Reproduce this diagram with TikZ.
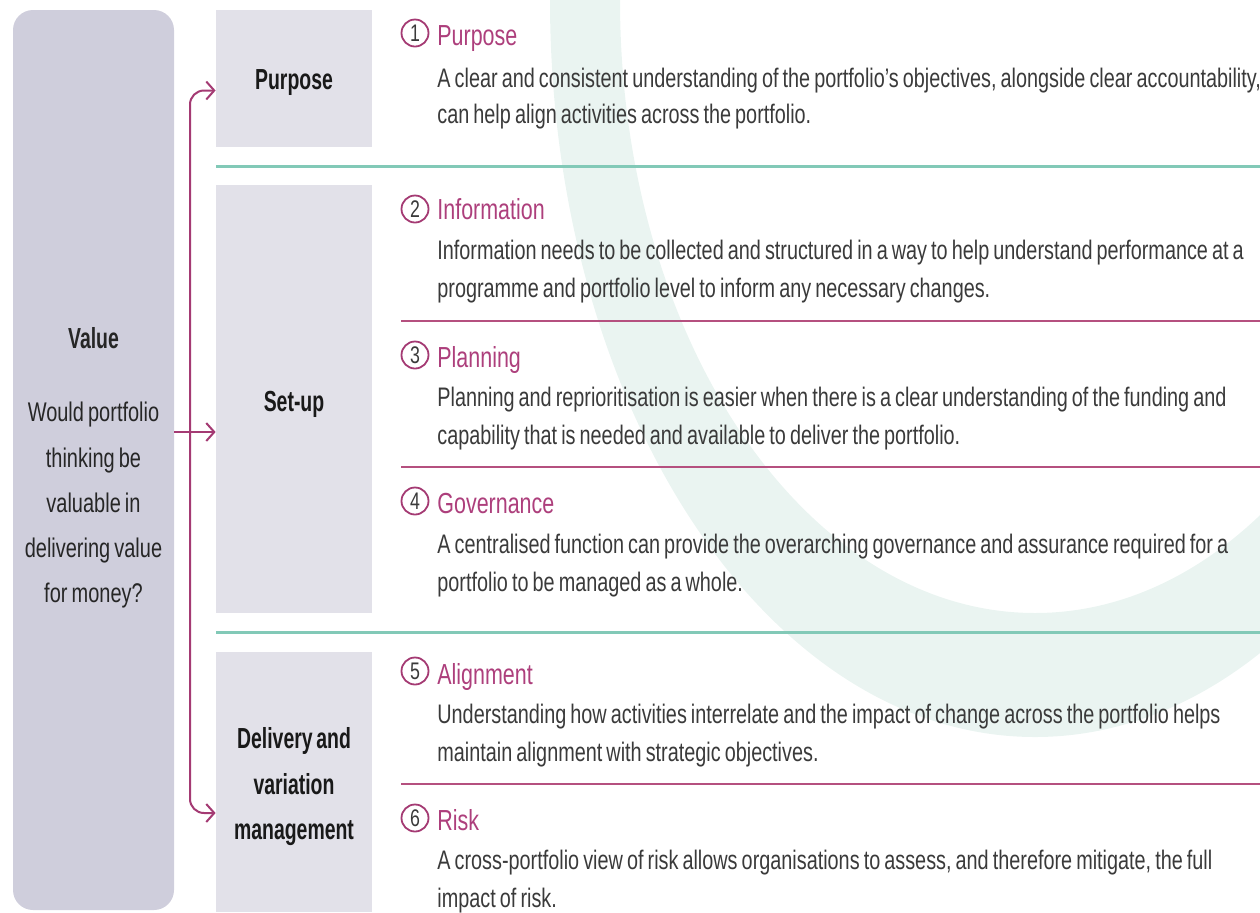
\documentclass[tikz,border=0pt]{standalone}
\usepackage{fontspec}
\setmainfont{Liberation Sans}[FakeStretch=0.74, WordSpace=0.74]
\newfontfamily\headfont{Liberation Sans}[FakeStretch=0.67, WordSpace=0.67]
\usetikzlibrary{arrows.meta}

\definecolor{valuegrey}{HTML}{CFCEDC}
\definecolor{stagegrey}{HTML}{E2E1E9}
\definecolor{tealrule}{HTML}{82C9B7}
\definecolor{plum}{HTML}{A43A73}
\definecolor{plumline}{HTML}{B5507F}
\definecolor{plumtext}{HTML}{AD3F7C}
\definecolor{ringtint}{HTML}{EAF4F1}
\definecolor{bodygrey}{HTML}{3A3A3A}

\begin{document}
\begin{tikzpicture}[x=0.5pt, y=-0.5pt, font=\fontsize{13.4}{19}\selectfont]

        % Setup the styles for boxes, rules and items
        \tikzset{value box/.style={rectangle,
                                   rounded corners=10pt,
                                   fill=valuegrey,
                                   minimum width=80.5pt,
                                   minimum height=450pt,
                                   inner sep=0pt,
                                   align=center,
                                   text=black!85,
                                   font=\fontsize{13.5}{22.6}\selectfont},
                 stage box/.style={rectangle,
                                   fill=stagegrey,
                                   minimum width=78pt,
                                   inner sep=0pt},
                 stage text/.style={inner sep=0pt, align=center, text=black!90,
                                    font=\headfont\bfseries\fontsize{14.5}{22.75}\selectfont},
                 num/.style={circle, draw=plum, line width=0.9pt,
                             minimum size=13.5pt, inner sep=0pt,
                             text=bodygrey, font=\fontsize{12}{12}\selectfont},
                 item title/.style={anchor=base west, inner sep=0pt,
                                    text=plumtext, font=\fontsize{14.5}{18}\selectfont},
                 item text/.style={anchor=base west, inner sep=0pt,
                                   text width=440pt, align=left, text=bodygrey,
                                   execute at begin node={\spaceskip=0pt\xspaceskip=0pt}},
                 teal rule/.style={draw=tealrule, line width=1.5pt},
                 plum rule/.style={draw=plumline, line width=1.2pt},
                 link/.style={draw=plum, line width=1pt,
                              -{Straight Barb[length=4pt,width=9pt]}}}

        \useasboundingbox (0,0) rectangle (1260,912);

        % Pale ring behind the items
        \begin{scope}
            \clip (0,0) rectangle (1260,912);
            \fill[ringtint, even odd rule]
                (1035,0) ellipse [x radius=242.5pt, y radius=368.5pt]
                (1035,0) ellipse [x radius=207.5pt, y radius=306.5pt];
        \end{scope}

        % Draw the boxes
        \node[value box] (value) at (93.5,460) {};
        \node[value box, fill=none, minimum height=0pt] (question) at (93.5,468)
            {{\headfont\bfseries\fontsize{14.5}{22.6}\selectfont Value}\\[14pt]
             Would portfolio\\thinking be\\valuable in\\delivering value\\for money?};
        \node[stage box, minimum height=68.5pt] (purpose)  at (294,78.5) {};
        \node[stage box, minimum height=214pt]  (setup)    at (294,399)  {};
        \node[stage box, minimum height=130pt]  (delivery) at (294,782)  {};
        \node[stage text] at (294,83)  {Purpose};
        \node[stage text] at (294,404) {Set-up};
        \node[stage text] at (294,787) {Delivery and\\variation\\management};

        % Connect the value box to the stages
        \coordinate (fork) at (190,432);
        \draw[link] (value.east |- fork) -- (setup.west |- fork);
        \draw[link, rounded corners=7pt] (fork) |- ([yshift=-6pt]purpose.west);
        \draw[link, rounded corners=7pt] (fork) |- ([yshift=-15.5pt]delivery.west);

        % Separating rules
        \draw[teal rule] (216,166) -- (1260,166);
        \draw[teal rule] (216,632) -- (1260,632);
        \foreach \y in {321,467,784}
            \draw[plum rule] (401,\y) -- (1260,\y);

        % Numbered items
        \foreach \n/\c in {1/33, 2/209, 3/355, 4/501, 5/671, 6/818}
            \node[num] (n\n) at (415,\c) {\n};

        \node[item title] (t1) at (437,45)  {Purpose};
        \node[item title] (t2) at (437,219) {Information};
        \node[item title] (t3) at (437,367) {Planning};
        \node[item title] (t4) at (437,513) {Governance};
        \node[item title] (t5) at (437,684) {Alignment};
        \node[item title] (t6) at (437,830) {Risk};

        \node[item text, font=\fontsize{13.4}{18}\selectfont] (b1) at (437,87)
            {A clear and consistent understanding of the portfolio’s objectives, alongside clear accountability,\\
             can help align activities across the portfolio.};
        \node[item text] (b2) at (437,259)
            {Information needs to be collected and structured in a way to help understand performance at a\\
             programme and portfolio level to inform any necessary changes.};
        \node[item text] (b3) at (437,406)
            {Planning and reprioritisation is easier when there is a clear understanding of the funding and\\
             capability that is needed and available to deliver the portfolio.};
        \node[item text] (b4) at (437,553)
            {A centralised function can provide the overarching governance and assurance required for a\\
             portfolio to be managed as a whole.};
        \node[item text] (b5) at (437,723)
            {Understanding how activities interrelate and the impact of change across the portfolio helps\\
             maintain alignment with strategic objectives.};
        \node[item text] (b6) at (437,869)
            {A cross-portfolio view of risk allows organisations to assess, and therefore mitigate, the full\\
             impact of risk.};
    \end{tikzpicture}
\end{document}
